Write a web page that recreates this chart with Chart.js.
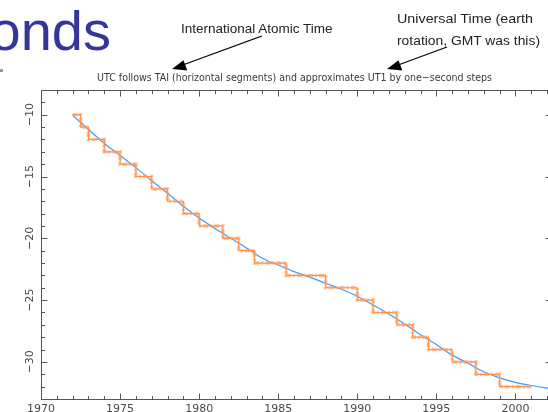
<!DOCTYPE html>
<html><head><meta charset="utf-8">
<script src="https://cdn.jsdelivr.net/npm/chart.js@4.4.1/dist/chart.umd.min.js"></script>
<style>
html,body{margin:0;padding:0;width:548px;height:412px;overflow:hidden;background:#fff;}
#wrap{position:relative;width:548px;height:412px;overflow:hidden;}
#c{position:absolute;left:0;top:0;}
#ov{position:absolute;left:0;top:0;}
</style></head><body>
<div id="wrap">
<canvas id="c" width="560" height="412" style="width:560px;height:412px"></canvas>
<svg id="ov" width="548" height="412" xmlns="http://www.w3.org/2000/svg">
  <text x="111" y="50" text-anchor="end" font-family="Liberation Sans, Arial, sans-serif" font-size="56" fill="#35359a">Seconds</text>
  <rect x="0" y="69" width="3" height="3" fill="#999"/>
  <text x="181" y="32.5" font-family="Liberation Sans, Arial, sans-serif" font-size="13.5" fill="#222">International Atomic Time</text>
  <text x="397" y="22.5" font-family="Liberation Sans, Arial, sans-serif" font-size="13.5" fill="#222" textLength="136" lengthAdjust="spacingAndGlyphs">Universal Time (earth</text>
  <text x="397" y="44.5" font-family="Liberation Sans, Arial, sans-serif" font-size="13.5" fill="#222" textLength="143" lengthAdjust="spacingAndGlyphs">rotation, GMT was this)</text>
  <line x1="262" y1="36" x2="180" y2="66" stroke="#000" stroke-width="1.2"/>
  <polygon points="172,69 183.5,60.2 187.3,70.6" fill="#000"/>
  <line x1="447" y1="47" x2="394" y2="66.5" stroke="#000" stroke-width="1.2"/>
  <polygon points="387,69 398.5,60.2 402.3,70.6" fill="#000"/>
  <text x="294.5" y="81" text-anchor="middle" textLength="395" lengthAdjust="spacingAndGlyphs" font-family="DejaVu Sans, sans-serif" font-size="10" fill="#3a3a3a">UTC follows TAI (horizontal segments) and approximates UT1 by one−second steps</text>
</svg>
</div>
<script>
// ---- data ----
const stepYears = [1972.0,1972.5,1973.0,1974.0,1975.0,1976.0,1977.0,1978.0,1979.0,1980.0,1981.5,1982.5,1983.5,1985.5,1988.0,1990.0,1991.0,1992.5,1993.5,1994.5,1996.0,1997.5,1999.0,2001.0];
const utcMinusTai = [-10,-11,-12,-13,-14,-15,-16,-17,-18,-19,-20,-21,-22,-23,-24,-25,-26,-27,-28,-29,-30,-31,-32,-32];
const ut1Years = [1972,1973,1974,1975,1976,1977,1978,1979,1980,1981,1982,1983,1984,1985,1986,1987,1988,1989,1990,1991,1992,1993,1994,1995,1996,1997,1998,1999,2000,2001,2002,2003];
const ut1MinusTai = [-10.05,-11.19,-12.31,-13.30,-14.28,-15.34,-16.35,-17.41,-18.36,-19.20,-19.99,-20.78,-21.61,-22.16,-22.69,-23.14,-23.64,-24.12,-24.68,-25.39,-26.13,-26.94,-27.80,-28.60,-29.45,-30.11,-30.79,-31.29,-31.65,-31.91,-32.12,-32.29];
const xTickValues = [1970,1975,1980,1985,1990,1995,2000];
const xTickLabels = ['1970','1975','1980','1985','1990','1995','2000'];
const yTickValues = [-10,-15,-20,-25,-30];
const yTickLabels = ['\u221210','\u221215','\u221220','\u221225','\u221230'];

const stepPts = stepYears.map((x,i)=>({x, y: utcMinusTai[i]}));
const ut1Pts = ut1Years.map((x,i)=>({x, y: ut1MinusTai[i]}));

const X_MIN = 1970, X_MAX = 2002.25, Y_MIN = -33, Y_MAX = -8;

const axesPlugin = {
  id: 'idlAxes',
  afterDraw(chart){
    const {ctx, chartArea:a, scales:{x, y}} = chart;
    ctx.save();
    ctx.strokeStyle = '#555';
    ctx.lineWidth = 1;
    const L = Math.round(a.left)+0.5, R = Math.round(a.right)+0.5, T = Math.round(a.top)+0.5, B = Math.round(a.bottom)+0.5;
    ctx.beginPath();
    ctx.moveTo(L,T); ctx.lineTo(R,T); ctx.lineTo(R,B); ctx.lineTo(L,B); ctx.closePath();
    for (let yr = Math.ceil(X_MIN); yr <= X_MAX; yr++) {
      const px = Math.round(x.getPixelForValue(yr)) + 0.5;
      const len = (yr % 5 === 0) ? 6 : 3.5;
      ctx.moveTo(px, B); ctx.lineTo(px, B - len);
      ctx.moveTo(px, T); ctx.lineTo(px, T + len);
    }
    for (let v = Math.ceil(Y_MIN); v <= Y_MAX; v++) {
      const py = Math.round(y.getPixelForValue(v)) + 0.5;
      const len = (v % 5 === 0) ? 6 : 3.5;
      ctx.moveTo(L, py); ctx.lineTo(L + len, py);
      ctx.moveTo(R, py); ctx.lineTo(R - len, py);
    }
    ctx.stroke();
    ctx.fillStyle = '#4a4a4a';
    ctx.font = '11px "DejaVu Sans", sans-serif';
    ctx.textAlign = 'center';
    ctx.textBaseline = 'middle';
    xTickValues.forEach((v,i)=>{
      ctx.fillText(xTickLabels[i], x.getPixelForValue(v), a.bottom + 10);
    });
    yTickValues.forEach((v,i)=>{
      ctx.save();
      ctx.translate(30, y.getPixelForValue(v));
      ctx.rotate(-Math.PI/2);
      ctx.fillText(yTickLabels[i], 0, 0);
      ctx.restore();
    });
    ctx.restore();
  }
};

new Chart(document.getElementById('c'), {
  type: 'line',
  data: {
    datasets: [
      { data: stepPts, stepped: true, borderColor: 'rgba(255,160,95,0.65)', borderWidth: 3.5, borderDash: [5,2,2,2], pointRadius: 0, fill: false },
      { data: stepPts, stepped: true, borderColor: '#ff8a3d', borderWidth: 1.2, pointRadius: 0, fill: false },
      { data: ut1Pts, borderColor: '#3d9bff', borderWidth: 1.2, pointRadius: 0, fill: false, cubicInterpolationMode: 'monotone' }
    ]
  },
  options: {
    responsive: false,
    animation: false,
    devicePixelRatio: 1,
    layout: { padding: { left: 0, top: 90, right: 9, bottom: 0 } },
    plugins: { legend: { display: false }, tooltip: { enabled: false }, title: { display: false } },
    scales: {
      x: { type: 'linear', min: X_MIN, max: X_MAX, ticks: { display: false }, grid: { display: false }, border: { display: false },
           afterFit(s){ s.height = 13; } },
      y: { type: 'linear', min: Y_MIN, max: Y_MAX, ticks: { display: false }, grid: { display: false }, border: { display: false },
           afterFit(s){ s.width = 41; } }
    }
  },
  plugins: [axesPlugin]
});
</script>
</body></html>
